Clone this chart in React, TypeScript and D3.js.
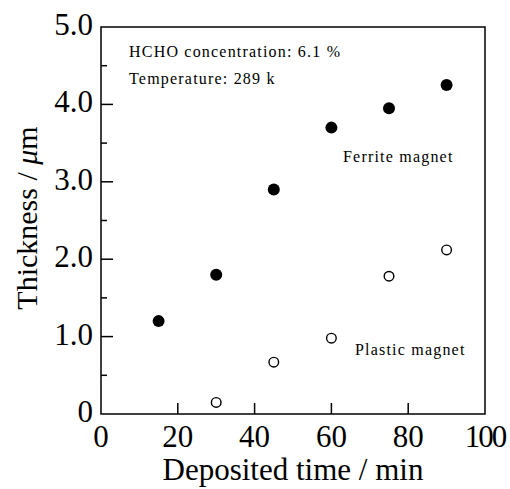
import * as d3 from 'd3';
import React, { useEffect, useRef } from 'react';

const ferriteTime = [15, 30, 45, 60, 75, 90];
const ferriteThickness = [1.2, 1.8, 2.9, 3.7, 3.95, 4.25];
const plasticTime = [30, 45, 60, 75, 90];
const plasticThickness = [0.15, 0.67, 0.98, 1.78, 2.12];
const xTicks = [0, 20, 40, 60, 80, 100];
const yTicks = [0, 1, 2, 3, 4, 5];
const yMinorTicks = [0.5, 1.5, 2.5, 3.5, 4.5];

const FONT = '"Liberation Serif", "Times New Roman", serif';

export default function App() {
  const ref = useRef<SVGSVGElement>(null);

  useEffect(() => {
    const svg = d3.select(ref.current);
    svg.selectAll('*').remove();

    const margin = { top: 27, right: 25, bottom: 75, left: 101 };
    const width = 510 - margin.left - margin.right;
    const height = 489 - margin.top - margin.bottom;

    const x = d3.scaleLinear().domain([0, 100]).range([0, width]);
    const y = d3.scaleLinear().domain([0, 5]).range([height, 0]);

    const g = svg.append('g').attr('transform', `translate(${margin.left}, ${margin.top})`);

    // frame
    g.append('rect')
      .attr('width', width)
      .attr('height', height)
      .style('fill', 'none')
      .style('stroke', '#000')
      .style('stroke-width', 1.5);

    // x ticks (inward)
    g.selectAll('line.xtick')
      .data(xTicks.slice(1, -1))
      .enter()
      .append('line')
      .attr('x1', d => x(d))
      .attr('x2', d => x(d))
      .attr('y1', height)
      .attr('y2', height - 11)
      .style('stroke', '#000')
      .style('stroke-width', 1.5);

    g.selectAll('text.xlab')
      .data(xTicks)
      .enter()
      .append('text')
      .attr('x', d => x(d))
      .attr('y', height + 33)
      .attr('text-anchor', 'middle')
      .style('font-family', FONT)
      .style('font-size', '31px')
      .style('letter-spacing', d => (d === 100 ? '-2px' : '0px'))
      .text(d => d);

    // y ticks
    g.selectAll('line.ytick')
      .data(yTicks.slice(1, -1))
      .enter()
      .append('line')
      .attr('x1', 0)
      .attr('x2', 12)
      .attr('y1', d => y(d))
      .attr('y2', d => y(d))
      .style('stroke', '#000')
      .style('stroke-width', 1.5);

    g.selectAll('line.yminor')
      .data(yMinorTicks)
      .enter()
      .append('line')
      .attr('x1', 0)
      .attr('x2', 6)
      .attr('y1', d => y(d))
      .attr('y2', d => y(d))
      .style('stroke', '#000')
      .style('stroke-width', 1.5);

    g.selectAll('text.ylab')
      .data(yTicks)
      .enter()
      .append('text')
      .attr('x', -8)
      .attr('y', d => y(d) + 8)
      .attr('text-anchor', 'end')
      .style('font-family', FONT)
      .style('font-size', '31px')
      .text(d => (d === 0 ? '0' : d3.format('.1f')(d)));

    // axis titles
    svg.append('text')
      .attr('x', margin.left + width / 2)
      .attr('y', 480)
      .attr('text-anchor', 'middle')
      .style('font-family', FONT)
      .style('font-size', '31px')
      .text('Deposited time / min');

    const yt = svg.append('text')
      .attr('transform', `translate(37, 218) rotate(-90)`)
      .attr('text-anchor', 'middle')
      .style('font-family', FONT)
      .style('font-size', '30px');
    yt.append('tspan').text('Thickness / ');
    yt.append('tspan').style('font-style', 'italic').text('μ');
    yt.append('tspan').text('m');

    // data
    g.selectAll('circle.ferrite')
      .data(ferriteTime.map((t, i) => [t, ferriteThickness[i]]))
      .enter()
      .append('circle')
      .attr('cx', d => x(d[0]))
      .attr('cy', d => y(d[1]))
      .attr('r', 6)
      .style('fill', '#000');

    g.selectAll('circle.plastic')
      .data(plasticTime.map((t, i) => [t, plasticThickness[i]]))
      .enter()
      .append('circle')
      .attr('cx', d => x(d[0]))
      .attr('cy', d => y(d[1]))
      .attr('r', 4.8)
      .style('fill', '#fff')
      .style('stroke', '#000')
      .style('stroke-width', 1.4);

    // annotations
    const note = (tx: number, ty: number, s: string) =>
      svg.append('text')
        .attr('x', tx)
        .attr('y', ty)
        .style('font-family', FONT)
        .style('font-size', '16px')
        .style('letter-spacing', '1.2px')
        .text(s);

    note(129, 57, 'HCHO concentration: 6.1 %');
    note(129, 84, 'Temperature: 289 k');
    note(343, 162, 'Ferrite magnet');
    note(355, 355, 'Plastic magnet');
  }, []);

  return (
    <svg
      ref={ref}
      width={510}
      height={489}
      style={{ position: 'absolute', top: 0, left: 0, background: '#fff' }}
    />
  );
}
